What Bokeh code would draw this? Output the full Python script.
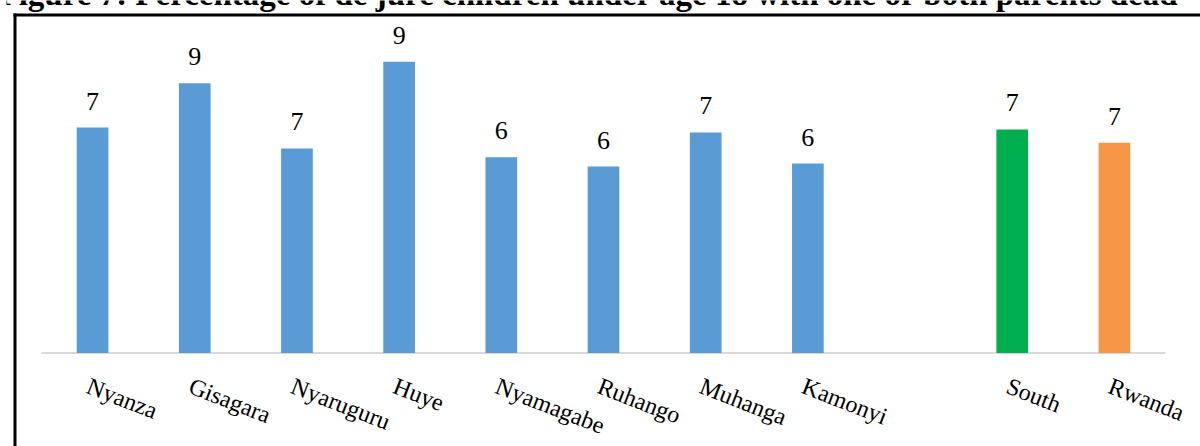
from bokeh.plotting import figure
from bokeh.models import FactorRange, Range1d, ColumnDataSource, LabelSet, BoxAnnotation, Label
from bokeh.core.properties import value
from bokeh.embed import file_html
from bokeh.resources import INLINE

# ---- data ----
title_text = "Figure 7: Percentage of de jure children under age 18 with one or both parents dead"
categories = ["Nyanza", "Gisagara", "Nyaruguru", "Huye", "Nyamagabe", "Ruhango",
              "Muhanga", "Kamonyi", " ", "South", "Rwanda"]
bar_names = ["Nyanza", "Gisagara", "Nyaruguru", "Huye", "Nyamagabe", "Ruhango",
             "Muhanga", "Kamonyi", "South", "Rwanda"]
bar_values = [7.34, 8.78, 6.66, 9.48, 6.37, 6.07, 7.18, 6.17, 7.28, 6.85]
bar_labels = [f"{v:.0f}" for v in bar_values]

# ---- styles ----
bar_colors = ["#5B9BD5"] * 8 + ["#00B050", "#F79646"]
FONT = "Liberation Serif"

p = figure(width=1200, height=446,
           x_range=FactorRange(*categories, range_padding=0.3425, range_padding_units="absolute"),
           y_range=Range1d(-3.045, 11.478),
           x_axis_location=None, y_axis_location=None,
           toolbar_location=None, output_backend="svg",
           min_border_left=6, min_border_right=0, min_border_top=0, min_border_bottom=0,
           outline_line_color=None, background_fill_color="white", border_fill_color="white")
p.xgrid.grid_line_color = None
p.ygrid.grid_line_color = None

# baseline (category axis line)
p.segment(x0=[(bar_names[0], -0.5)], x1=[(bar_names[-1], 0.5)], y0=[0], y1=[0],
          line_color="#D9D9D9", line_width=2)

src = ColumnDataSource(dict(x=bar_names, top=bar_values, label=bar_labels,
                            color=bar_colors, zero=[0] * len(bar_names)))
p.vbar(x="x", top="top", bottom=0, width=0.31, fill_color="color", line_color=None, source=src)

p.add_layout(LabelSet(x="x", y="top", text="label", source=src, y_offset=18,
                      text_align="center", text_baseline="alphabetic",
                      text_font=value(FONT), text_font_size="26px", text_color="black"))

p.add_layout(LabelSet(x="x", y="zero", text="x", source=src, y_offset=-20, angle=-0.37,
                      text_align="left", text_baseline="top",
                      text_font=value(FONT), text_font_size="24px", text_color="black"))

# outer chart border (only its top and left edges fall inside the picture)
p.add_layout(BoxAnnotation(left=13, right=16, top=13, bottom=446,
                           left_units="canvas", right_units="canvas",
                           top_units="canvas", bottom_units="canvas",
                           fill_color="black", fill_alpha=1, line_color=None))
p.add_layout(BoxAnnotation(left=13, right=1200, top=13, bottom=16,
                           left_units="canvas", right_units="canvas",
                           top_units="canvas", bottom_units="canvas",
                           fill_color="black", fill_alpha=1, line_color=None))

# figure caption, cropped at the top edge as in the source picture
p.add_layout(Label(x=-2, y=-7, x_units="canvas", y_units="canvas", text=title_text,
                   text_align="left", text_baseline="alphabetic",
                   text_font=FONT, text_font_style="bold",
                   text_font_size="33px", text_color="black"))

open("out.html", "w").write(file_html(p, INLINE))
